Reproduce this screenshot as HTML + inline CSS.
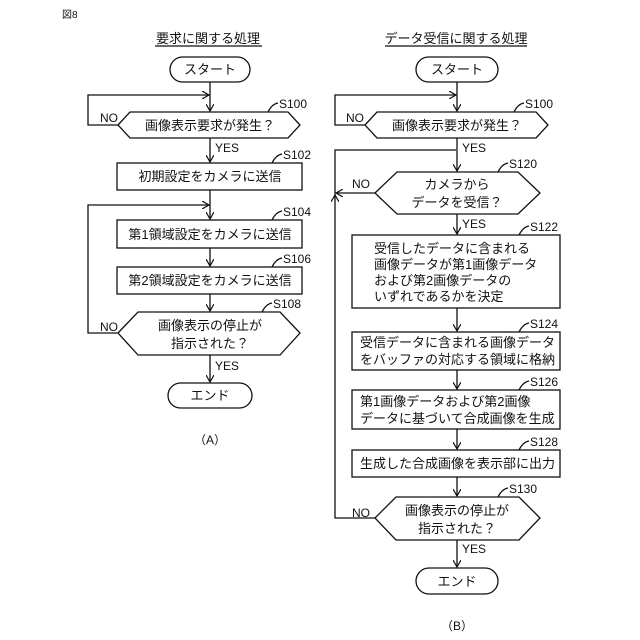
<!DOCTYPE html>
<html><head><meta charset="utf-8"><style>body{margin:0;background:#fff}svg{display:block}text{font-family:"Liberation Sans","Noto Sans CJK JP",sans-serif;fill:#111}</style></head><body>
<svg width="640" height="640" viewBox="0 0 640 640" xmlns="http://www.w3.org/2000/svg">
<defs><marker id="a" markerWidth="8" markerHeight="8" refX="7" refY="4" orient="auto" markerUnits="userSpaceOnUse"><path d="M0,0 L7,4 L0,8" fill="none" stroke="#111" stroke-width="1.2"/></marker></defs>
<g stroke="#111" stroke-width="1.3" fill="none">
<!-- Left -->
<line x1="155" y1="46" x2="262" y2="46"/>
<rect x="170" y="57" width="80" height="25" rx="12.5"/>
<line x1="210" y1="82" x2="210" y2="111" marker-end="url(#a)"/>
<polyline points="118,125 88,125 88,95 209,95" marker-end="url(#a)"/>
<polygon points="118,125 130,112 288,112 300,125 288,138 130,138"/>
<line x1="210" y1="138" x2="210" y2="162" marker-end="url(#a)"/>
<rect x="117" y="163" width="185" height="27"/>
<line x1="210" y1="190" x2="210" y2="219" marker-end="url(#a)"/>
<polyline points="118,333 88,333 88,205 209,205" marker-end="url(#a)"/>
<rect x="117" y="220" width="185" height="28"/>
<line x1="210" y1="248" x2="210" y2="266" marker-end="url(#a)"/>
<rect x="117" y="267" width="185" height="27"/>
<line x1="210" y1="294" x2="210" y2="311" marker-end="url(#a)"/>
<polygon points="118,333 138,312 280,312 300,333 280,355 138,355"/>
<line x1="210" y1="355" x2="210" y2="382" marker-end="url(#a)"/>
<rect x="168" y="383" width="84" height="25" rx="12.5"/>
<!-- Right -->
<line x1="385" y1="46" x2="527" y2="46"/>
<rect x="416" y="57" width="82" height="25" rx="12.5"/>
<line x1="457" y1="82" x2="457" y2="111" marker-end="url(#a)"/>
<polyline points="365,125 335,125 335,95 456,95" marker-end="url(#a)"/>
<polygon points="365,125 377,112 536,112 548,125 536,138 377,138"/>
<line x1="457" y1="138" x2="457" y2="171" marker-end="url(#a)"/>
<polyline points="335,196 335,150 456,150"/>
<polygon points="375,193 397,172 518,172 540,193 518,214 397,214"/>
<line x1="375" y1="193" x2="336" y2="193" marker-end="url(#a)"/>
<line x1="335" y1="513" x2="335" y2="195" marker-end="url(#a)"/>
<line x1="457" y1="214" x2="457" y2="234" marker-end="url(#a)"/>
<rect x="352" y="235" width="208" height="73"/>
<line x1="457" y1="308" x2="457" y2="331" marker-end="url(#a)"/>
<rect x="352" y="332" width="208" height="38"/>
<line x1="457" y1="370" x2="457" y2="389" marker-end="url(#a)"/>
<rect x="352" y="390" width="208" height="39"/>
<line x1="457" y1="429" x2="457" y2="449" marker-end="url(#a)"/>
<rect x="352" y="450" width="208" height="27"/>
<line x1="457" y1="477" x2="457" y2="496" marker-end="url(#a)"/>
<polygon points="375,518 396,497 519,497 540,518 519,540 396,540"/>
<polyline points="375,518 335,518 335,513"/>
<line x1="457" y1="540" x2="457" y2="567" marker-end="url(#a)"/>
<rect x="416" y="568" width="82" height="26" rx="13"/>
<!-- label hooks -->
<path d="M268,112 q4,-8 10,-9"/><path d="M272,163 q4,-8 10,-9"/><path d="M272,220 q4,-8 10,-9"/><path d="M272,267 q4,-8 10,-9"/><path d="M262,312 q4,-8 10,-9"/>
<path d="M514,112 q4,-8 10,-9"/><path d="M498,172 q4,-8 10,-9"/><path d="M519,235 q4,-8 10,-9"/><path d="M519,332 q4,-8 10,-9"/><path d="M519,390 q4,-8 10,-9"/><path d="M519,450 q4,-8 10,-9"/><path d="M498,497 q4,-8 10,-9"/>
</g>
<g font-size="13">
<text x="62" y="18" font-size="10">図8</text>
<text x="208" y="43" text-anchor="middle">要求に関する処理</text>
<text x="210" y="74" text-anchor="middle">スタート</text>
<text x="210" y="130" text-anchor="middle">画像表示要求が発生？</text>
<text x="210" y="181" text-anchor="middle">初期設定をカメラに送信</text>
<text x="210" y="239" text-anchor="middle">第1領域設定をカメラに送信</text>
<text x="210" y="285" text-anchor="middle">第2領域設定をカメラに送信</text>
<text x="210" y="330" text-anchor="middle">画像表示の停止が</text>
<text x="210" y="348" text-anchor="middle">指示された？</text>
<text x="210" y="400" text-anchor="middle">エンド</text>
<text x="210" y="444" text-anchor="middle" font-size="12">（A）</text>
<text x="456" y="43" text-anchor="middle">データ受信に関する処理</text>
<text x="457" y="74" text-anchor="middle">スタート</text>
<text x="457" y="130" text-anchor="middle">画像表示要求が発生？</text>
<text x="457" y="189" text-anchor="middle">カメラから</text>
<text x="457" y="207" text-anchor="middle">データを受信？</text>
<text x="374" y="253">受信したデータに含まれる</text>
<text x="374" y="269">画像データが第1画像データ</text>
<text x="374" y="285">および第2画像データの</text>
<text x="374" y="301">いずれであるかを決定</text>
<text x="360" y="347">受信データに含まれる画像データ</text>
<text x="360" y="364">をバッファの対応する領域に格納</text>
<text x="360" y="406">第1画像データおよび第2画像</text>
<text x="360" y="423">データに基づいて合成画像を生成</text>
<text x="360" y="468">生成した合成画像を表示部に出力</text>
<text x="457" y="515" text-anchor="middle">画像表示の停止が</text>
<text x="457" y="533" text-anchor="middle">指示された？</text>
<text x="457" y="586" text-anchor="middle">エンド</text>
<text x="457" y="630" text-anchor="middle" font-size="12">（B）</text>
</g>
<g font-size="12">
<text x="100" y="122">NO</text><text x="215" y="152">YES</text><text x="100" y="331">NO</text><text x="215" y="370">YES</text>
<text x="279" y="108">S100</text><text x="283" y="159">S102</text><text x="283" y="216">S104</text><text x="283" y="263">S106</text><text x="273" y="308">S108</text>
<text x="346" y="122">NO</text><text x="462" y="152">YES</text><text x="352" y="188">NO</text><text x="462" y="228">YES</text><text x="352" y="517">NO</text><text x="462" y="553">YES</text>
<text x="525" y="108">S100</text><text x="509" y="168">S120</text><text x="530" y="231">S122</text><text x="530" y="328">S124</text><text x="530" y="386">S126</text><text x="530" y="446">S128</text><text x="509" y="493">S130</text>
</g>
</svg>
</body></html>
